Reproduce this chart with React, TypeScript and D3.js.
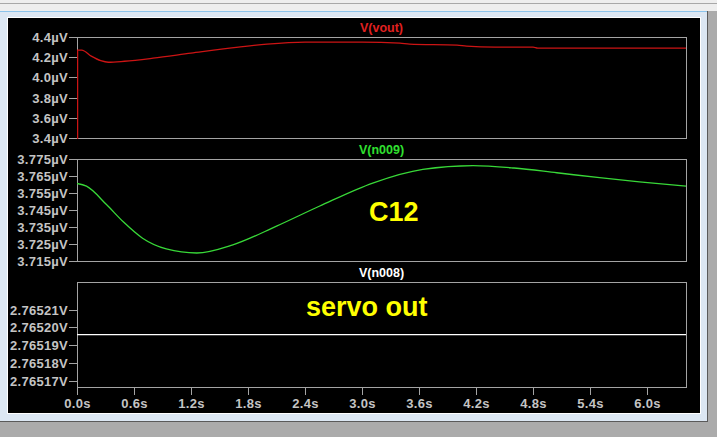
import React from "react";
import * as d3 from "d3";

// ---- data ----
const timeTicks = [0, 0.6, 1.2, 1.8, 2.4, 3.0, 3.6, 4.2, 4.8, 5.4, 6.0];
const timeTickLabels = ["0.0s", "0.6s", "1.2s", "1.8s", "2.4s", "3.0s", "3.6s", "4.2s", "4.8s", "5.4s", "6.0s"];
const timeEnd = 6.41;

const voutTicks = [3.4, 3.6, 3.8, 4.0, 4.2, 4.4];
const voutTickLabels = ["3.4µV", "3.6µV", "3.8µV", "4.0µV", "4.2µV", "4.4µV"];
const voutT = [0, 0, 0.05, 0.15, 0.25, 0.33, 0.5, 0.8, 1.2, 1.7, 2.0, 2.4, 3.0, 3.4, 3.5, 4.0, 4.1, 4.4, 4.8, 4.85, 6.41];
const voutV = [3.3, 4.27, 4.27, 4.21, 4.165, 4.15, 4.16, 4.19, 4.24, 4.3, 4.33, 4.35, 4.35, 4.34, 4.33, 4.32, 4.31, 4.30, 4.30, 4.29, 4.29];

const n009Ticks = [3.715, 3.725, 3.735, 3.745, 3.755, 3.765, 3.775];
const n009TickLabels = ["3.715µV", "3.725µV", "3.735µV", "3.745µV", "3.755µV", "3.765µV", "3.775µV"];
const n009T = [0, 0.1, 0.31, 0.49, 0.69, 0.94, 1.26, 1.64, 2.1, 2.55, 3.12, 3.64, 4.17, 4.6, 5.05, 5.5, 5.92, 6.41];
const n009V = [3.7606, 3.759, 3.7482, 3.7379, 3.7284, 3.7221, 3.7197, 3.7245, 3.7355, 3.7472, 3.761, 3.7689, 3.7711, 3.7697, 3.7669, 3.764, 3.7616, 3.759];

const n008Ticks = [2.76517, 2.76518, 2.76519, 2.7652, 2.76521];
const n008TickLabels = ["2.76517V", "2.76518V", "2.76519V", "2.76520V", "2.76521V"];
const n008T = [0, 6.41];
const n008V = [2.765196, 2.765196];

// ---- layout ----
const W = 717, H = 437;
const X0 = 77, X1 = 686;
const frameCol = "#a4a4a4";
const labelCol = "#c4c4c4";
const tickFont = "'Liberation Sans', Arial, sans-serif";

type PanelProps = {
  top: number; bottom: number; domain: [number, number];
  ticks: number[]; labels: string[]; t: number[]; v: number[];
  color: string; title: string; titleColor: string; id: string; showX?: boolean;
};

const x = d3.scaleLinear().domain([0, timeEnd]).range([X0, X1]);

function Panel(p: PanelProps) {
  const y = d3.scaleLinear().domain(p.domain).range([p.bottom, p.top]);
  const pts = p.t.map((t, i) => [t, p.v[i]] as [number, number]);
  // split off a vertical step at the start (same time value repeated)
  let start = 0;
  while (start + 1 < pts.length && pts[start + 1][0] === pts[start][0]) start++;
  const stepPts = pts.slice(0, start + 1);
  const curvePts = pts.slice(start);
  const line = d3.line<[number, number]>().x(d => x(d[0])).y(d => y(d[1])).curve(d3.curveMonotoneX);
  const lin = d3.line<[number, number]>().x(d => x(d[0])).y(d => y(d[1]));
  return (
    <g>
      <defs>
        <clipPath id={p.id}>
          <rect x={X0} y={p.top} width={X1 - X0 + 1} height={p.bottom - p.top + 1} />
        </clipPath>
      </defs>
      <rect x={X0 + 0.5} y={p.top + 0.5} width={X1 - X0} height={p.bottom - p.top} fill="none" stroke={frameCol} strokeWidth={1} />
      {p.ticks.map((tv, i) => {
        const yy = Math.round(y(tv)) + 0.5;
        return (
          <g key={i}>
            <line x1={X0 - 8} x2={X0} y1={yy} y2={yy} stroke={frameCol} />
            <text x={68} y={yy + 4.5} textAnchor="end" fill={labelCol} fontFamily={tickFont} fontWeight="bold" fontSize={13} letterSpacing={0.3}>{p.labels[i]}</text>
          </g>
        );
      })}
      <text x={(X0 + X1) / 2} y={p.top - 5} textAnchor="middle" fill={p.titleColor} fontFamily={tickFont} fontWeight="bold" fontSize={12.5}>{p.title}</text>
      <g clipPath={`url(#${p.id})`}>
        {stepPts.length > 1 && (
          <path d={lin(stepPts) || ""} fill="none" stroke={p.color} strokeWidth={1.5} transform="translate(0.5,0)" />
        )}
        <path d={line(curvePts) || ""} fill="none" stroke={p.color} strokeWidth={1.3} />
      </g>
      {p.showX && timeTicks.map((tv, i) => {
        const xx = Math.round(x(tv)) + 0.5;
        return (
          <g key={"x" + i}>
            <line x1={xx} x2={xx} y1={p.bottom} y2={p.bottom + 8} stroke={frameCol} />
            <text x={xx} y={407.5} textAnchor="middle" fill={labelCol} fontFamily={tickFont} fontWeight="bold" fontSize={13} letterSpacing={0.3}>{timeTickLabels[i]}</text>
          </g>
        );
      })}
    </g>
  );
}

export default function App() {
  return (
    <svg width={W} height={H} style={{ position: "absolute", left: 0, top: 0, display: "block" }}>
      {/* window chrome */}
      <rect x={0} y={0} width={W} height={H} fill="#ababab" />
      <rect x={0} y={0} width={W} height={11} fill="#eeeeee" />
      <line x1={0} x2={W} y1={3.5} y2={3.5} stroke="#a8a8a8" />
      <rect x={0} y={11} width={707} height={410} fill="#dce7f3" />
      <line x1={0} x2={707} y1={11.5} y2={11.5} stroke="#8cc4ec" />
      <line x1={0} x2={707} y1={421.5} y2={421.5} stroke="#5a5a5a" />
      <line x1={707.5} x2={707.5} y1={11} y2={422} stroke="#5a5a5a" />
      <rect x={7} y={17} width={694} height={397} fill="#ffffff" />
      <rect x={8} y={18} width={692} height={395} fill="#000000" />

      <Panel id="c1" top={37} bottom={138} domain={[3.4, 4.4]} ticks={voutTicks} labels={voutTickLabels}
        t={voutT} v={voutV} color="#cc1414" title="V(vout)" titleColor="#e02020" />
      <Panel id="c2" top={159} bottom={261} domain={[3.715, 3.775]} ticks={n009Ticks} labels={n009TickLabels}
        t={n009T} v={n009V} color="#38d838" title="V(n009)" titleColor="#30e030" />
      <Panel id="c3" top={282} bottom={387} domain={[2.7651665, 2.7652256]} ticks={n008Ticks} labels={n008TickLabels}
        t={n008T} v={n008V} color="#ffffff" title="V(n008)" titleColor="#ffffff" showX />

      <text x={369} y={221} fill="#ffff00" fontFamily={tickFont} fontWeight="bold" fontSize={27}>C12</text>
      <text x={306} y={316} fill="#ffff00" fontFamily={tickFont} fontWeight="bold" fontSize={27}>servo out</text>
    </svg>
  );
}
